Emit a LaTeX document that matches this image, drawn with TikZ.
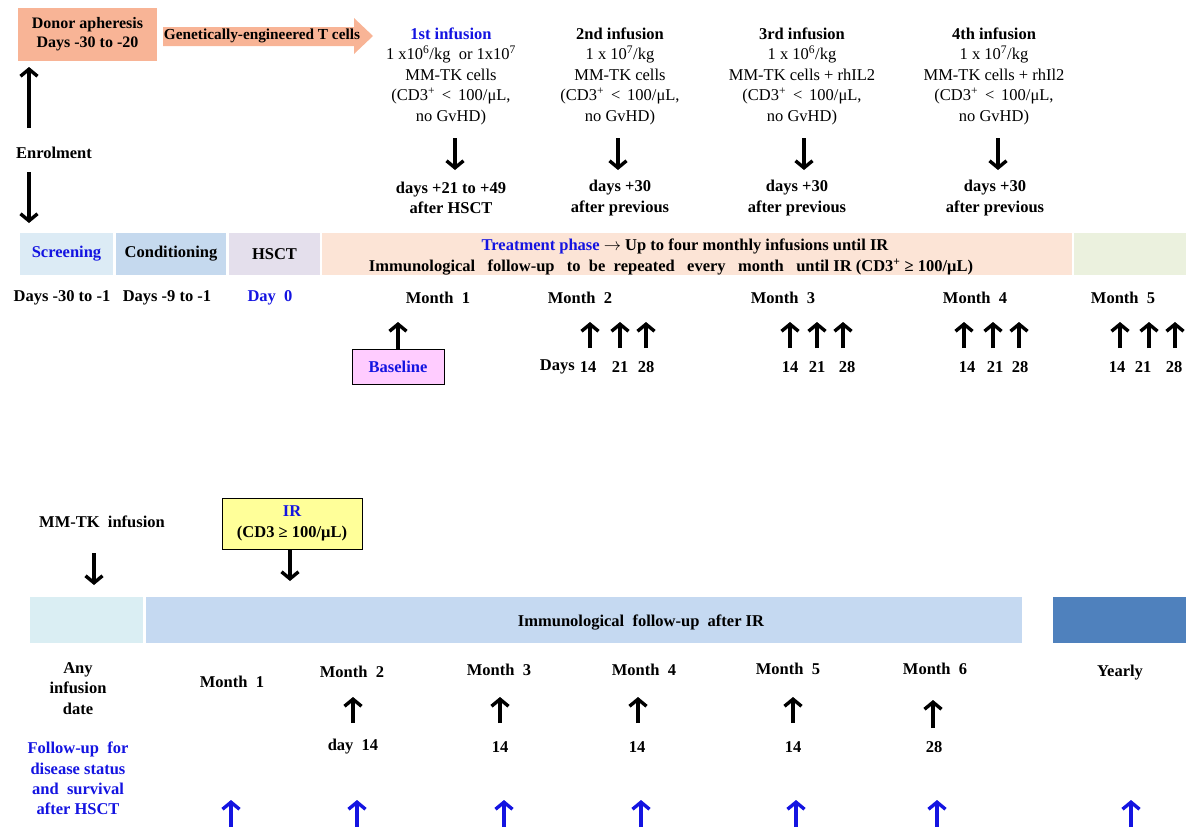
\documentclass[tikz,border=0pt]{standalone}
\usepackage{fontspec}
\setmainfont{Liberation Serif}
\usetikzlibrary{arrows.meta}
\definecolor{salmon}{RGB}{248,180,150}
\definecolor{tblue}{RGB}{20,20,225}
\definecolor{scrfill}{RGB}{220,235,245}
\definecolor{condfill}{RGB}{197,217,238}
\definecolor{hsctfill}{RGB}{228,223,236}
\definecolor{treatfill}{RGB}{252,228,214}
\definecolor{greenfill}{RGB}{235,241,222}
\definecolor{pinkfill}{RGB}{255,204,255}
\definecolor{yellowfill}{RGB}{255,255,153}
\definecolor{lightfill}{RGB}{218,238,243}
\definecolor{mainfill}{RGB}{197,217,241}
\definecolor{darkfill}{RGB}{79,129,189}
\newcommand\myarr[5]{\coordinate (#2a) at (#3,#4); \coordinate (#2b) at (#3,#5); \draw[#1] (#2a) -- (#2b);}
\begin{document}
\begin{tikzpicture}[x=1pt,y=-1pt,
  B/.style={font=\bfseries\fontsize{16.5}{20.5}\selectfont, inner sep=0pt, outer sep=0pt, align=center},
  R/.style={font=\fontsize{16.5}{20.5}\selectfont, inner sep=0pt, outer sep=0pt, align=center},
  blk/.style={line width=3.4pt, -{Straight Barb[length=7pt,width=17pt]}},
  blu/.style={blk, draw=tblue},
  band/.style={draw=none, inner sep=0pt, outer sep=0pt, font=\bfseries\fontsize{16.5}{20.5}\selectfont, align=center}]
\useasboundingbox (0,0) rectangle (1186,827);
% ---------- top ----------
\node[band, fill=salmon, minimum width=139pt, minimum height=53pt, font=\bfseries\fontsize{16}{19}\selectfont] (donor) at (87.5,34.5) {Donor apheresis\\Days -30 to -20};
\fill[salmon] (163,27) -- (354,27) -- (354,18) -- (373,36) -- (354,54) -- (354,46) -- (163,46) -- cycle;
\node[B, font=\bfseries\fontsize{15.3}{18}\selectfont] (gen) at (262,36) {Genetically-engineered T cells};
\node[B] (enrol) at (54,153) {Enrolment};
\myarr{blk}{enrolUp}{29}{128}{67}
\myarr{blk}{enrolDn}{29}{172}{223}

\node[R] (inf1) at (451,76) {{\color{tblue}\bfseries 1st infusion}\\1 x10\textsuperscript{6}/kg\ \ or 1x10\textsuperscript{7}\\MM-TK cells\\(CD3\textsuperscript{+} \,<\, 100/μL,\\no GvHD)};
\node[R] (inf2) at (620,76) {{\bfseries 2nd infusion}\\1 x 10\textsuperscript{7}/kg\\MM-TK cells\\(CD3\textsuperscript{+} \,<\, 100/μL,\\no GvHD)};
\node[R] (inf3) at (802,76) {{\bfseries 3rd infusion}\\1 x 10\textsuperscript{6}/kg\\MM-TK cells + rhIL2\\(CD3\textsuperscript{+} \,<\, 100/μL,\\no GvHD)};
\node[R] (inf4) at (994,76) {{\bfseries 4th infusion}\\1 x 10\textsuperscript{7}/kg\\MM-TK cells + rhIl2\\(CD3\textsuperscript{+} \,<\, 100/μL,\\no GvHD)};
\node[B] (d1) at (451,198) {days +21 to +49\\after HSCT};
\node[B] (d2) at (620,198) {days +30\\after previous};
\node[B] (d3) at (797,198) {days +30\\after previous};
\node[B] (d4) at (995,198) {days +30\\after previous};
\myarr{blk}{i1}{455}{138}{170}
\myarr{blk}{i2}{618}{138}{170}
\myarr{blk}{i3}{804}{138}{170}
\myarr{blk}{i4}{998}{138}{170}

% ---------- band ----------
\node[band, fill=scrfill, minimum width=93pt, minimum height=42pt, text=tblue] (scr) at (66.5,254) {Screening};
\node[band, fill=condfill, minimum width=110pt, minimum height=42pt] (cond) at (171,254) {Conditioning};
\node[band, fill=hsctfill, minimum width=91pt, minimum height=42pt] (hsct) at (274.5,254) {HSCT};
\node[band, fill=treatfill, minimum width=750pt, minimum height=42pt] (treat) at (697,254) {};
\node[band, fill=greenfill, minimum width=112pt, minimum height=42pt] (green) at (1130,254) {};
\node[B] (treatA) at (685,246.5) {{\color{tblue}Treatment phase} $\rightarrow$ Up\ to\ four\ monthly\ infusions until IR};
\node[B] (treatB) at (671,267) {Immunological\ \ \ follow-up\ \ \ to\ \ be\ \ repeated\ \ \ every\ \ \ month\ \ \ until IR (CD3\textsuperscript{+} ≥ 100/μL)};

\node[B] (r1) at (62,298) {Days -30 to -1};
\node[B] (r2) at (167,298) {Days -9 to -1};
\node[B, text=tblue] (r3) at (270,298) {Day\ \ 0};
\node[B] (m1) at (438,298) {Month\ \ 1};
\node[B] (m2) at (580,298) {Month\ \ 2};
\node[B] (m3) at (783,298) {Month\ \ 3};
\node[B] (m4) at (975,298) {Month\ \ 4};
\node[B] (m5) at (1123,298) {Month\ \ 5};

\node[band, fill=pinkfill, draw=black, line width=0.8pt, minimum width=92pt, minimum height=35pt, text=tblue] (base) at (398,366.5) {Baseline};
\coordinate (baseUp) at (398,322);
\draw[blk] (base.north) -- (baseUp);

\myarr{blk}{a21}{590}{348}{322}
\myarr{blk}{a22}{620}{348}{322}
\myarr{blk}{a23}{646}{348}{322}
\myarr{blk}{a31}{790}{348}{322}
\myarr{blk}{a32}{817}{348}{322}
\myarr{blk}{a33}{843}{348}{322}
\myarr{blk}{a41}{964}{348}{322}
\myarr{blk}{a42}{993}{348}{322}
\myarr{blk}{a43}{1019}{348}{322}
\myarr{blk}{a51}{1120}{348}{322}
\myarr{blk}{a52}{1149}{348}{322}
\myarr{blk}{a53}{1175}{348}{322}

\node[B] (n21) at (588,367) {14};
\node[B, anchor=east] (days) at ([xshift=-5pt]n21.west) {Days};
\node[B] (n22) at (620,367) {21};
\node[B] (n23) at (646,367) {28};
\node[B] (n31) at (790,367) {14};
\node[B] (n32) at (817,367) {21};
\node[B] (n33) at (847,367) {28};
\node[B] (n41) at (967,367) {14};
\node[B] (n42) at (995,367) {21};
\node[B] (n43) at (1020,367) {28};
\node[B] (n51) at (1117,367) {14};
\node[B] (n52) at (1143,367) {21};
\node[B] (n53) at (1174,367) {28};

% ---------- lower ----------
\node[B] (mmtk) at (102,522) {MM-TK\ \ infusion};
\myarr{blk}{mm}{94}{553}{585}
\node[band, fill=yellowfill, draw=black, line width=0.8pt, minimum width=140pt, minimum height=51pt] (ir) at (292,523.5) {{\color{tblue}IR}\\(CD3 ≥ 100/μL)};
\coordinate (irEnd) at (290,581);
\draw[blk] (ir.south -| irEnd) -- (irEnd);

\node[band, fill=lightfill, minimum width=113pt, minimum height=46pt] (lb1) at (86.5,620) {};
\node[band, fill=mainfill, minimum width=876pt, minimum height=46pt] (lb2) at (584,620) {};
\node[band, fill=darkfill, minimum width=133pt, minimum height=46pt] (lb3) at (1119.5,620) {};
\node[B] (lbtxt) at (641,623) {Immunological\ \ follow-up\ \ after IR};

\node[B] (any) at (78,688.5) {Any\\infusion\\date};
\node[B] (lm1) at (232,682) {Month\ \ 1};
\node[B] (lm2) at (352,672) {Month\ \ 2};
\node[B] (lm3) at (499,670) {Month\ \ 3};
\node[B] (lm4) at (644,670) {Month\ \ 4};
\node[B] (lm5) at (788,669) {Month\ \ 5};
\node[B] (lm6) at (935,669) {Month\ \ 6};
\node[B] (yr) at (1120,673) {Yearly};

\myarr{blk}{b2}{353}{723}{697}
\myarr{blk}{b3}{500}{723}{697}
\myarr{blk}{b4}{638}{723}{697}
\myarr{blk}{b5}{793}{723}{697}
\myarr{blk}{b6}{933}{728}{700}

\node[B] (ln2) at (353,747) {day\ \ 14};
\node[B] (ln3) at (500,747) {14};
\node[B] (ln4) at (637,747) {14};
\node[B] (ln5) at (793,747) {14};
\node[B] (ln6) at (934,747) {28};

\node[B, text=tblue, font=\bfseries\fontsize{16.5}{20.3}\selectfont] (fu) at (78,778.5) {Follow-up\ \ for\\disease status\\and\ \ survival\\after HSCT};

\myarr{blu}{c1}{231}{830}{800}
\myarr{blu}{c2}{357}{830}{800}
\myarr{blu}{c3}{504}{830}{800}
\myarr{blu}{c4}{641}{830}{800}
\myarr{blu}{c5}{796}{830}{800}
\myarr{blu}{c6}{937}{830}{800}
\myarr{blu}{c7}{1131}{830}{800}
\end{tikzpicture}
\end{document}
